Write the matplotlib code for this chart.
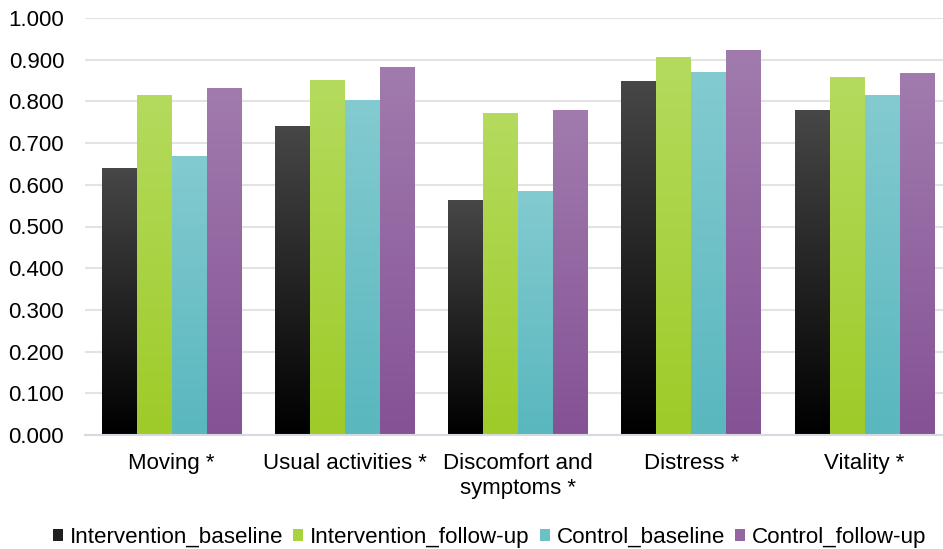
import numpy as np
import matplotlib
matplotlib.use("Agg")
import matplotlib.pyplot as plt
from matplotlib.colors import LinearSegmentedColormap
from matplotlib.patches import Patch

plt.rcParams['font.family'] = ['Liberation Sans', 'DejaVu Sans']

categories = ["Moving *", "Usual activities *", "Discomfort and\nsymptoms *", "Distress *", "Vitality *"]
series_names = ["Intervention_baseline", "Intervention_follow-up", "Control_baseline", "Control_follow-up"]
intervention_baseline = [0.640, 0.739, 0.562, 0.847, 0.779]
intervention_followup = [0.813, 0.849, 0.770, 0.906, 0.858]
control_baseline = [0.669, 0.801, 0.585, 0.870, 0.813]
control_followup = [0.832, 0.882, 0.777, 0.921, 0.868]
y_ticks = [0.0, 0.1, 0.2, 0.3, 0.4, 0.5, 0.6, 0.7, 0.8, 0.9, 1.0]

series_values = [intervention_baseline, intervention_followup, control_baseline, control_followup]
# (top colour, bottom colour) of each series' vertical gradient
gradients = [("#474747", "#000000"),
             ("#b4db5e", "#9ecb28"),
             ("#83cbd0", "#59b7be"),
             ("#a17bae", "#855295")]
legend_colors = ["#202020", "#a8d23e", "#6cc1c7", "#9366a1"]

W, H = 943, 549
fig = plt.figure(figsize=(W / 100, H / 100), dpi=100)
ax = fig.add_axes([85 / W, (H - 435) / H, (W - 85) / W, (435 - 18) / H])

bar_w = 0.202
x = np.arange(len(categories))
grad = np.linspace(1, 0, 256).reshape(-1, 1)
for i, (vals, (top, bot)) in enumerate(zip(series_values, gradients)):
    cmap = LinearSegmentedColormap.from_list(f"g{i}", [bot, top])
    offs = (i - 1.5) * bar_w
    for xc, v in zip(x, vals):
        x0 = xc + offs - bar_w / 2
        ax.imshow(grad, cmap=cmap, vmin=0, vmax=1, aspect='auto',
                  extent=(x0, x0 + bar_w, 0, v), zorder=2, interpolation='bilinear')

ax.set_xlim(-0.5, -0.5 + (W - 85) / 173.25)
ax.set_ylim(0, 1.0)
ax.set_yticks(y_ticks)
ax.set_yticklabels([f"{t:.3f}" for t in y_ticks], fontsize=16)
ax.set_xticks(x)
ax.set_xticklabels(categories, fontsize=16, linespacing=1.25)
ax.tick_params(axis='y', length=0, pad=15)
ax.tick_params(axis='x', length=0, pad=13)
ax.yaxis.grid(True, color="#e3e3e3", linewidth=1.5, zorder=0)
ax.set_axisbelow(True)
for s in ["top", "right", "left"]:
    ax.spines[s].set_visible(False)
ax.spines["bottom"].set_color("#d5dae0")
ax.spines["bottom"].set_linewidth(1.5)
ax.spines["bottom"].set_zorder(3)

handles = [Patch(facecolor=c, edgecolor='none') for c in legend_colors]
fig.legend(handles, series_names, loc='center', bbox_to_anchor=(489.5 / W, 1 - 537 / H),
           ncol=4, frameon=False, fontsize=16.1, handlelength=0.45, handleheight=0.45,
           handletextpad=0.3, columnspacing=0.45)

fig.savefig("out.png", dpi=100)
